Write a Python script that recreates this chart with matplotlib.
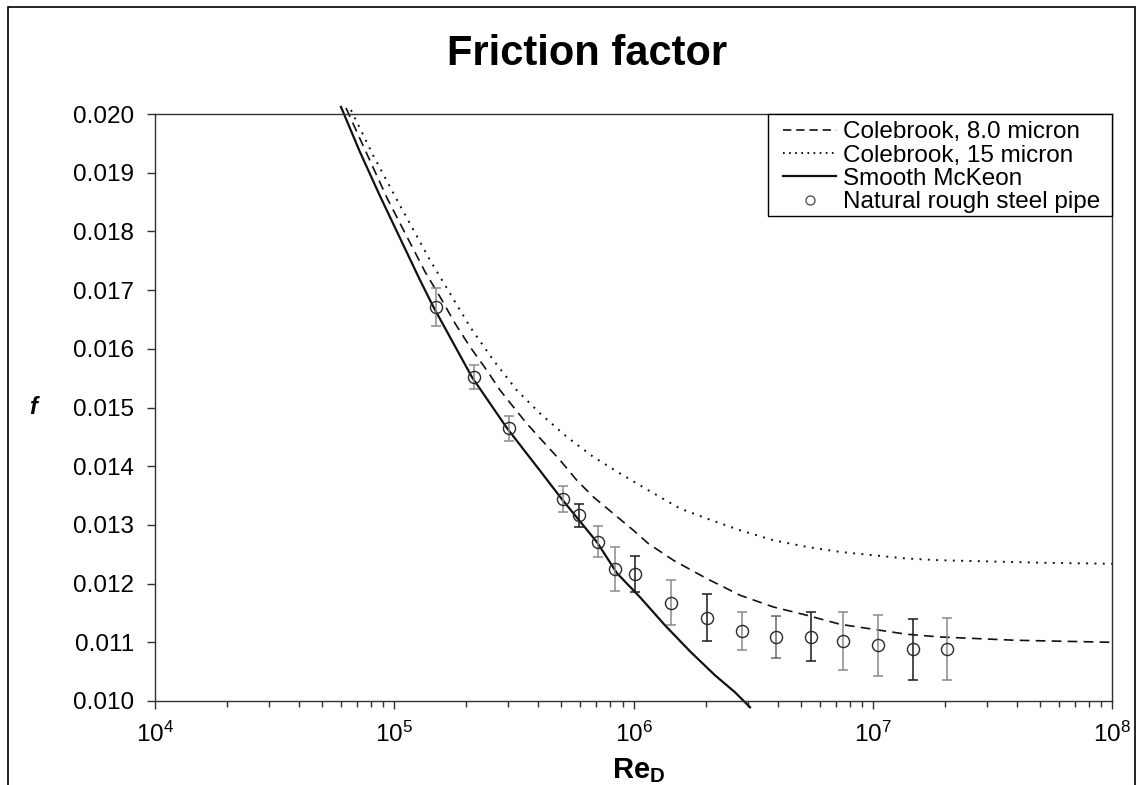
import matplotlib
matplotlib.use("Agg")
import matplotlib.pyplot as plt
from matplotlib.lines import Line2D
from matplotlib.patches import Rectangle
from matplotlib.ticker import LogLocator, MultipleLocator, NullFormatter

plt.rcParams['font.family'] = ['Liberation Sans', 'DejaVu Sans']
plt.rcParams['mathtext.fontset'] = 'custom'
plt.rcParams['mathtext.rm'] = 'Liberation Sans'
plt.rcParams['mathtext.bf'] = 'Liberation Sans:bold'
plt.rcParams['mathtext.it'] = 'Liberation Sans:italic'
plt.rcParams['lines.scale_dashes'] = False

# curves
re_smooth = [5.99e4, 7.19e4, 8.72e4, 1.057e5, 1.281e5, 1.452e5, 2.113e5, 2.96e5, 4.07e5,
             5.02e5, 7.04e5, 8.53e5, 1.065e6, 1.354e6, 1.722e6, 2.191e6, 2.657e6, 3.07e6]
f_smooth = [0.02012, 0.019352, 0.018602, 0.017886, 0.017171, 0.016727, 0.015517, 0.014648, 0.013922,
            0.013438, 0.012705, 0.012177, 0.011768, 0.01129, 0.010847, 0.010438, 0.010148, 0.009893]

re_cb8 = [6.285e4, 7.62e4, 9.42e4, 1.345e5, 1.553e5, 1.795e5, 2.073e5, 2.434e5, 2.767e5,
          3.145e5, 3.578e5, 4.198e5, 4.93e5, 5.79e5, 6.79e5, 8.23e5, 9.98e5, 1.153e6,
          1.467e6, 2.023e6, 2.787e6, 3.84e6, 5.30e6, 7.30e6, 1.005e7, 1.387e7, 1.91e7,
          3.93e7, 1.0e8]
f_cb8 = [0.020102, 0.019352, 0.018534, 0.017312, 0.016886, 0.016433, 0.016034, 0.015637, 0.015296,
         0.015011, 0.014728, 0.014415, 0.014103, 0.013762, 0.013477, 0.013194, 0.012909, 0.012683,
         0.012398, 0.012086, 0.011802, 0.011602, 0.011461, 0.011307, 0.011222, 0.011137, 0.011091,
         0.011035, 0.011000]

re_cb15 = [6.595e4, 8.15e4, 1.027e5, 1.41e5, 1.71e5, 2.073e5, 2.594e5, 3.25e5, 4.07e5,
           5.26e5, 6.79e5, 8.78e5, 1.153e6, 1.565e6, 2.023e6, 2.787e6, 3.84e6, 5.30e6,
           7.30e6, 1.005e7, 1.387e7, 1.91e7, 5.0e7, 1.0e8]
f_cb15 = [0.020068, 0.019301, 0.018534, 0.017512, 0.016944, 0.016375, 0.015807, 0.015296, 0.014899,
          0.0145, 0.014159, 0.013876, 0.013591, 0.013279, 0.013109, 0.012909, 0.012739, 0.012625,
          0.01254, 0.012483, 0.012427, 0.012398, 0.012356, 0.012338]

# measurements
re_data = [1.494e5, 2.154e5, 3.026e5, 5.06e5, 5.93e5, 7.11e5, 8.34e5, 1.017e6, 1.431e6,
           2.023e6, 2.833e6, 3.94e6, 5.54e6, 7.53e6, 1.052e7, 1.469e7, 2.038e7]
f_data = [0.016716, 0.015522, 0.014643, 0.013443, 0.013165, 0.01271, 0.012257, 0.01216, 0.011677,
          0.011421, 0.011193, 0.011091, 0.011091, 0.011018, 0.010949, 0.010881, 0.010881]
f_err = [0.000324, 0.000205, 0.000218, 0.000227, 0.000193, 0.000264, 0.000375, 0.000307, 0.000378,
         0.000397, 0.000327, 0.000355, 0.000418, 0.000491, 0.000517, 0.000517, 0.000525]
bar_colors = ['#8a8a8a', '#8a8a8a', '#8a8a8a', '#8a8a8a', '#1a1a1a', '#8a8a8a', '#8a8a8a', '#1a1a1a',
              '#8a8a8a', '#1a1a1a', '#8a8a8a', '#6a6a6a', '#1a1a1a', '#8a8a8a', '#8a8a8a', '#1a1a1a',
              '#8a8a8a']

labels = ['Colebrook, 8.0 micron', 'Colebrook, 15 micron', 'Smooth McKeon',
          'Natural rough steel pipe']

fig = plt.figure(figsize=(11.42, 7.85), dpi=100)
ax = fig.add_axes([155 / 1142, 1 - 701 / 785, (1112 - 155) / 1142, (701 - 114) / 785])

ax.plot(re_cb8, f_cb8, color='#111111', lw=1.2, dashes=(7, 4.5), clip_on=False)
ax.plot(re_cb15, f_cb15, color='#111111', lw=1.4, dashes=(1.4, 4.6), clip_on=False)
ax.plot(re_smooth, f_smooth, color='#111111', lw=1.6, clip_on=False)

for x, y, e, c in zip(re_data, f_data, f_err, bar_colors):
    ax.errorbar(x, y, yerr=e, fmt='none', ecolor=c, elinewidth=1.1, capsize=3.4, capthick=1.1)
ax.plot(re_data, f_data, 'o', ms=8.7, mfc='none', mec='#2a2a2a', mew=1.0, ls='none', zorder=4)

ax.set_xscale('log')
ax.set_xlim(1e4, 1e8)
ax.set_ylim(0.010, 0.020)
ax.yaxis.set_major_locator(MultipleLocator(0.001))
ax.yaxis.set_major_formatter(matplotlib.ticker.FormatStrFormatter('%.3f'))
ax.xaxis.set_major_locator(LogLocator(base=10, numticks=10))
ax.xaxis.set_minor_locator(LogLocator(base=10, subs=range(2, 10), numticks=50))
ax.xaxis.set_minor_formatter(NullFormatter())

for s in ax.spines.values():
    s.set_color('#303030')
    s.set_linewidth(1.0)
ax.tick_params(axis='both', which='major', direction='out', length=6, width=1.0,
               color='#303030', labelsize=17.5, pad=9)
ax.tick_params(axis='x', which='minor', direction='out', length=4.5, width=1.0, color='#303030')

# legend frame and entries
ax.add_patch(Rectangle((0.6405, 0.8262), 0.3595, 0.1738, transform=ax.transAxes,
                       facecolor='white', edgecolor='black', lw=1.0, clip_on=False, zorder=4))
handles = [Line2D([], [], color='#111111', lw=1.2, dashes=(6, 3.5)),
           Line2D([], [], color='#111111', lw=1.4, dashes=(1.2, 3.2)),
           Line2D([], [], color='#111111', lw=1.6),
           Line2D([], [], marker='o', ls='none', ms=6.5, mfc='white', mec='#555555', mew=1.0)]
leg = ax.legend(handles, labels, loc='upper left', bbox_to_anchor=(0.6562, 0.9875),
                frameon=False, borderpad=0, handlelength=2.2, handletextpad=0.25,
                labelspacing=0.05, fontsize=17.5, borderaxespad=0)
leg.set_zorder(5)

fig.text(587 / 1142, 1 - 54 / 785, 'Friction factor', ha='center', va='center',
         fontsize=30, fontweight='bold')
fig.text(33 / 1142, 1 - 407 / 785, 'f', ha='center', va='center', fontsize=17,
         fontweight='bold', style='italic')
fig.text(612 / 1142, 1 - 778 / 785, r'$\mathbf{Re}_{\mathbf{D}}$', ha='left', va='baseline',
         fontsize=21)

fig.add_artist(Rectangle((8 / 1142, -0.05), (1135 - 8) / 1142, 0.99108 + 0.05,
                         transform=fig.transFigure, fill=False, lw=1.2, edgecolor='black'))

fig.savefig('out.png', dpi=100)
